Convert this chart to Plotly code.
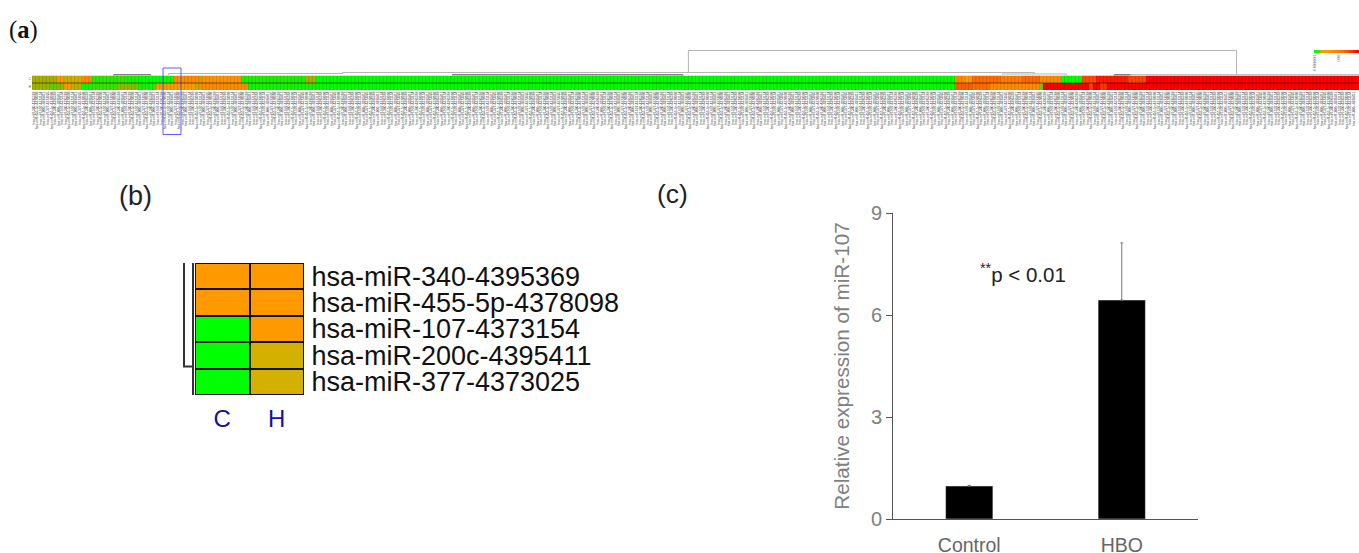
import plotly.graph_objects as go

W, H = 1359, 553
def fx(p): return p / W
def fy(p): return 1 - p / H

# ---------- panel (a) data: (value, number of cells) read from left to right
row_c_runs = [(.30,7),(.50,2),(.38,5),(.56,3),(.08,8),(.18,1),(.05,4),(0,10),(.55,7),(.33,1),(.52,11),
              (.06,18),(.30,3),(0,180),(.55,3),(.50,2),(.66,8),(.60,6),(.68,5),(.56,6),(0,6),(.78,4),
              (.92,9),(.80,5),(1,60)]
row_h_runs = [(.28,5),(.15,1),(.22,3),(.50,2),(.35,3),(0,3),(.10,7),(.25,6),(.05,5),(.50,11),(.35,1),(.55,14),
              (.04,20),(0,179),(.72,5),(.66,5),(.55,14),(.20,1),(1,13),(.80,1),(1,2),(.85,2),(1,71)]
row_names_a = ["C", "H"]
tick_names = ["hsa-miR-340-4395369", "hsa-miR-455-5p-4378098", "hsa-miR-107-4373154",
              "hsa-miR-200c-4395411", "hsa-miR-377-4373025", "hsa-miR-455-5p-4378098",
              "hsa-miR-340-4395369", "hsa-miR-200c-4395411", "hsa-miR-107-4373154"]
dend_left   = [184.5, 87, 38, 273, 22.5, 118, 304.5, 309]
dend_right  = [339,  282, 87, 291, 33,  183, 309,   373.5]
dend_height = [25,   3,   2,  1.5, .6,  .6,  .6,    .8]
dend_lowl   = [3,    1.5, 0,  0,   0,   0,   0,     0]
dend_lowr   = [0,    1.5, 1.5,0,   0,   0,   0,     0]
dend_color  = ["#b5b5b5","#b5b5b5","#b5b5b5","#b5b5b5","#333333","#333333","#333333","#b5b5b5"]
legend_values = [0,.12,.38,.46,.5,.52,.55,.58,.62,.66,.72,.78,.84,.92,1]
legend_ticks = ["-0.00000001", "1.000"]

# ---------- panel (b) data
genes = ["hsa-miR-340-4395369", "hsa-miR-455-5p-4378098", "hsa-miR-107-4373154",
         "hsa-miR-200c-4395411", "hsa-miR-377-4373025"]
samples = ["C", "H"]
expr_c = [.5, .5, 0, 0, 0]
expr_h = [.5, .5, .5, .4, .4]

# ---------- panel (c) data
groups = ["Control", "HBO"]
rel_expr = [0.97, 6.44]
rel_err = [0.02, 1.68]

scale = [[0,"#00ff00"],[.3,"#a8b000"],[.4,"#d4b000"],[.5,"#ff9900"],[.75,"#ff5500"],[1,"#ff0000"]]

def expand(runs):
    out = []
    for v, n in runs:
        out += [v] * n
    return out

row_c = expand(row_c_runs)
row_h = expand(row_h_runs)
n_cells = min(len(row_c), len(row_h))
row_c, row_h = row_c[:n_cells], row_h[:n_cells]
cells = list(range(n_cells))
tick_text = [tick_names[i % len(tick_names)] for i in cells]

fig = go.Figure()
fig.add_trace(go.Heatmap(z=[row_c, row_h], x=cells, y=row_names_a, colorscale=scale, zmin=0, zmax=1,
                         showscale=False, xaxis="x", yaxis="y"))
for l, r, h, a, b, c in zip(dend_left, dend_right, dend_height, dend_lowl, dend_lowr, dend_color):
    fig.add_trace(go.Scatter(x=[l, l, r, r], y=[a, h, h, b], mode="lines", line=dict(color=c, width=1),
                             showlegend=False, xaxis="x2", yaxis="y2"))
fig.add_trace(go.Heatmap(z=[legend_values], colorscale=scale, zmin=0, zmax=1, showscale=False,
                         xaxis="x3", yaxis="y3"))
fig.add_trace(go.Heatmap(z=[[c, h] for c, h in zip(expr_c, expr_h)], x=samples, y=genes, colorscale=scale,
                         zmin=0, zmax=1, showscale=False, xgap=2, ygap=2, xaxis="x4", yaxis="y4"))
fig.add_trace(go.Scatter(x=[2, 2, None, 11, 11, 2], y=[-.5, 4.5, None, -.5, 3.42, 3.42], mode="lines",
                         line=dict(color="#333333", width=2), showlegend=False, xaxis="x5", yaxis="y5"))
fig.add_trace(go.Bar(x=groups, y=rel_expr, width=0.31, marker=dict(color="#000000"),
                     error_y=dict(type="data", symmetric=False, array=rel_err, arrayminus=[0, 0],
                                  color="#777777", thickness=1, width=1.5),
                     showlegend=False, xaxis="x6", yaxis="y6"))

grid_shapes = [dict(type="line", xref="x", yref="paper", x0=i - .5, x1=i - .5, y0=fy(90), y1=fy(75.5),
                    line=dict(color="rgba(0,0,0,0.14)", width=1)) for i in cells]
grid_shapes.append(dict(type="line", xref="paper", yref="paper", x0=fx(32), x1=1, y0=fy(83), y1=fy(83),
                        line=dict(color="rgba(0,0,0,0.5)", width=1)))

hidden = dict(showgrid=False, zeroline=False, showline=False, showticklabels=False, ticks="", automargin=False)
fig.update_layout(
    width=W, height=H, margin=dict(l=0, r=0, t=0, b=0), paper_bgcolor="white", plot_bgcolor="white",
    font=dict(family="Liberation Sans"), showlegend=False,
    xaxis=dict(domain=[fx(32), 1], range=[-.5, n_cells-.5], tickmode="array", tickvals=cells, ticktext=tick_text,
               tickangle=-90, tickfont=dict(size=3.3, color="#333333"), ticks="", showgrid=False, zeroline=False,
               automargin=False),
    yaxis=dict(domain=[fy(90), fy(75.5)], autorange="reversed", tickmode="array", tickvals=row_names_a,
               ticktext=row_names_a, tickfont=dict(size=3.5, color="#555555"),
               ticks="", showgrid=False, zeroline=False, automargin=False),
    xaxis2=dict(domain=[fx(32), 1], range=[-.5, n_cells-.5], anchor="y2", **hidden),
    yaxis2=dict(domain=[fy(75.5), fy(46)], range=[0, 29.5], anchor="x2", **hidden),
    xaxis3=dict(domain=[fx(1314), 1], anchor="y3", showgrid=False, zeroline=False, range=[-.5, 14.5],
                tickmode="array", tickvals=[0, 8], ticktext=legend_ticks, tickangle=-90, automargin=False,
                tickfont=dict(size=3, color="#555555"), ticks=""),
    yaxis3=dict(domain=[fy(53), fy(50)], anchor="x3", **hidden),
    xaxis4=dict(domain=[fx(195), fx(304)], anchor="y4", range=[-.5, 1.5], showgrid=False, zeroline=False,
                ticks="outside", ticklen=2, tickcolor="rgba(0,0,0,0)", automargin=False,
                tickfont=dict(size=24, color="#1a0f96")),
    yaxis4=dict(domain=[fy(395), fy(263)], anchor="x4", side="right", autorange="reversed", showgrid=False,
                zeroline=False, ticks="outside", ticklen=1, tickcolor="rgba(0,0,0,0)", tickmode="array",
                tickvals=genes, ticktext=genes, automargin=False, tickfont=dict(size=27, color="#111111")),
    xaxis5=dict(domain=[fx(180), fx(195)], anchor="y5", range=[15, 0], **hidden),
    yaxis5=dict(domain=[fy(395), fy(263)], anchor="x5", range=[4.5, -.5], **hidden),
    xaxis6=dict(domain=[fx(893), fx(1198)], anchor="y6", range=[-.5, 1.5], showgrid=False, zeroline=False,
                showline=True, linecolor="#555555", linewidth=1, ticks="outside", ticklen=9, automargin=False,
                tickcolor="rgba(0,0,0,0)", tickfont=dict(size=19.5, color="#666666")),
    yaxis6=dict(domain=[fy(519), fy(213)], anchor="x6", range=[0, 9], tickvals=[0, 3, 6, 9], showgrid=False,
                zeroline=False, showline=True, linecolor="#555555", linewidth=1, ticks="outside", ticklen=6,
                automargin=False, tickcolor="#555555", ticksuffix="\u00a0\u00a0\u00a0\u00a0",
                tickfont=dict(size=20, color="#808080"),
                title=dict(text="Relative expression of miR-107", font=dict(size=20.7, color="#808080"), standoff=15)),
    shapes=[
        dict(type="rect", xref="paper", yref="paper", x0=fx(195), x1=fx(304), y0=fy(395), y1=fy(263), layer="below",
             fillcolor="#111111", line_width=0),
        dict(type="rect", xref="paper", yref="paper", x0=fx(163), x1=fx(181), y0=fy(134.5), y1=fy(68),
             line=dict(color="#5a5aff", width=1), fillcolor="rgba(0,0,0,0)"),
    ] + grid_shapes,
    annotations=[
        dict(text="(<b>a</b>)", x=fx(7), y=fy(30), xref="paper", yref="paper", xanchor="left", yanchor="middle",
             showarrow=False, font=dict(family="Liberation Serif", size=24.5, color="#111111")),
        dict(text="(b)", x=fx(117), y=fy(196), xref="paper", yref="paper", xanchor="left", yanchor="middle",
             showarrow=False, font=dict(family="Liberation Sans", size=27, color="#222222")),
        dict(text="(c)", x=fx(655), y=fy(194), xref="paper", yref="paper", xanchor="left", yanchor="middle",
             showarrow=False, font=dict(family="Liberation Sans", size=26.5, color="#222222")),
        dict(text="<sup>**</sup>p &lt; 0.01", x=fx(978), y=fy(273), xref="paper", yref="paper", xanchor="left",
             yanchor="middle", showarrow=False, font=dict(family="Liberation Sans", size=20.5, color="#222222")),
    ],
)
fig.write_html("out.html", config=dict(displayModeBar=False),
               post_script="document.body.style.margin='0';document.body.style.overflow='hidden';")
